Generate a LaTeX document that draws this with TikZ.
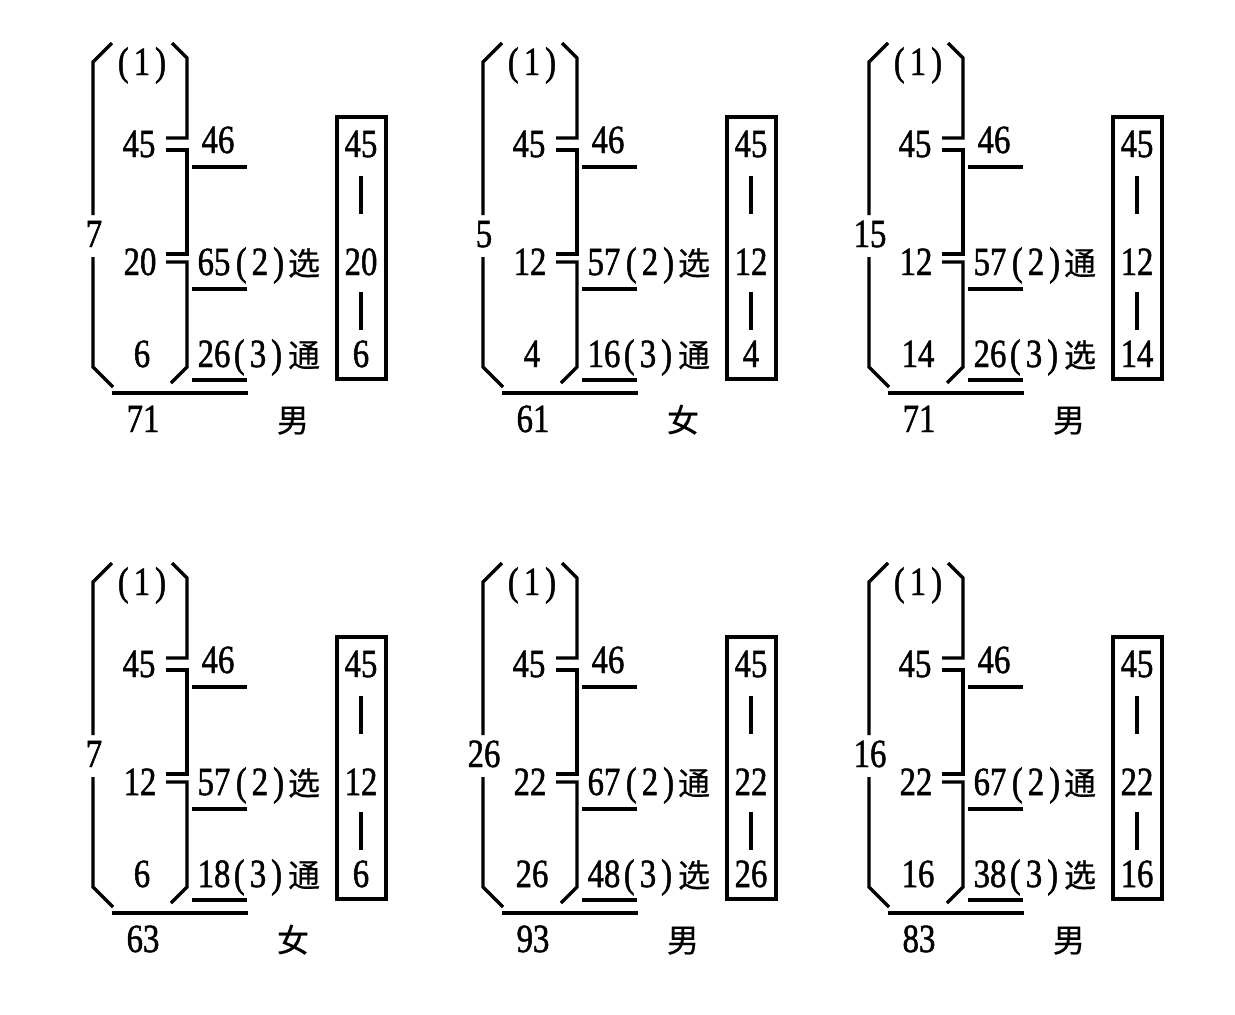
\documentclass[tikz,border=0pt]{standalone}
\usepackage{fontspec}
\setmainfont{Liberation Serif}[FakeStretch=0.82,FakeBold=1.2]
\newfontfamily\cjk{Noto Sans CJK SC}[FakeBold=0.6]
\tikzset{
  ln/.style={line width=3.4pt, line cap=butt, line join=miter},
  num/.style={font=\fontsize{40}{42}\selectfont, inner sep=0pt, anchor=base},
  han/.style={font=\cjk\fontsize{32}{34}\selectfont, inner sep=0pt, anchor=base},
}
\newcommand\pr[1]{(\kern5pt#1\kern5pt)}
% #1 left, #2 mid, #3 bottom, #4 second, #5 third, #6 char2, #7 char3, #8 total, #9 gender
\newcommand\drawpanel[9]{%
  \draw[ln] (112,43) -- (93,62) -- (93,215);
  \draw[ln] (93,257) -- (93,367) -- (113,387);
  \draw[ln] (172,43) -- (187,58) -- (187,138) -- (166,138);
  \draw[ln] (166,150) -- (187,150) -- (187,254) -- (166,254);
  \draw[ln] (166,262) -- (187,262) -- (187,367) -- (171,383);
  \node[num] (\pn-one) at (142,75) {\pr{1}};
  \node[num] (\pn-a) at (139,157) {45};
  \node[num] (\pn-b) at (140,275) {#2};
  \node[num] (\pn-c) at (142,367) {#3};
  \node[num] (\pn-l) at (94,247) {#1};
  \node[num] (\pn-d) at (218,153) {46};
  \draw[ln] (192,167) -- (247,167);
  \node[num] (\pn-e) at (214,275) {#4};
  \draw[ln] (192,289) -- (247,289);
  \node[num] (\pn-e2) at (260,275) {\pr{2}};
  \node[han] (\pn-e3) at (304,275) {#6};
  \node[num] (\pn-f) at (214,367) {#5};
  \draw[ln] (192,380) -- (247,380);
  \node[num] (\pn-f2) at (258,367) {\pr{3}};
  \node[han] (\pn-f3) at (304,367) {#7};
  \draw[ln] (112,393) -- (248,393);
  \node[num] (\pn-t) at (143,432) {#8};
  \node[han] (\pn-g) at (293,432) {#9};
  \draw[ln] (337,117) rectangle (386,379);
  \node[num] (\pn-x1) at (361,157) {45};
  \node[num] (\pn-x2) at (361,275) {#2};
  \node[num] (\pn-x3) at (361,367) {#3};
  \draw[ln] (361,176) -- (361,214);
  \draw[ln] (361,292) -- (361,330);
}
\begin{document}
\begin{tikzpicture}[x=1pt,y=-1pt]
\useasboundingbox[fill=white] (0,0) rectangle (1235,1015);
\begin{scope}[shift={(0,0)}]\def\pn{p1}\drawpanel{7}{20}{6}{65}{26}{选}{通}{71}{男}\end{scope}
\begin{scope}[shift={(390,0)}]\def\pn{p2}\drawpanel{5}{12}{4}{57}{16}{选}{通}{61}{女}\end{scope}
\begin{scope}[shift={(776,0)}]\def\pn{p3}\drawpanel{15}{12}{14}{57}{26}{通}{选}{71}{男}\end{scope}
\begin{scope}[shift={(0,520)}]\def\pn{p4}\drawpanel{7}{12}{6}{57}{18}{选}{通}{63}{女}\end{scope}
\begin{scope}[shift={(390,520)}]\def\pn{p5}\drawpanel{26}{22}{26}{67}{48}{通}{选}{93}{男}\end{scope}
\begin{scope}[shift={(776,520)}]\def\pn{p6}\drawpanel{16}{22}{16}{67}{38}{通}{选}{83}{男}\end{scope}
\end{tikzpicture}
\end{document}
